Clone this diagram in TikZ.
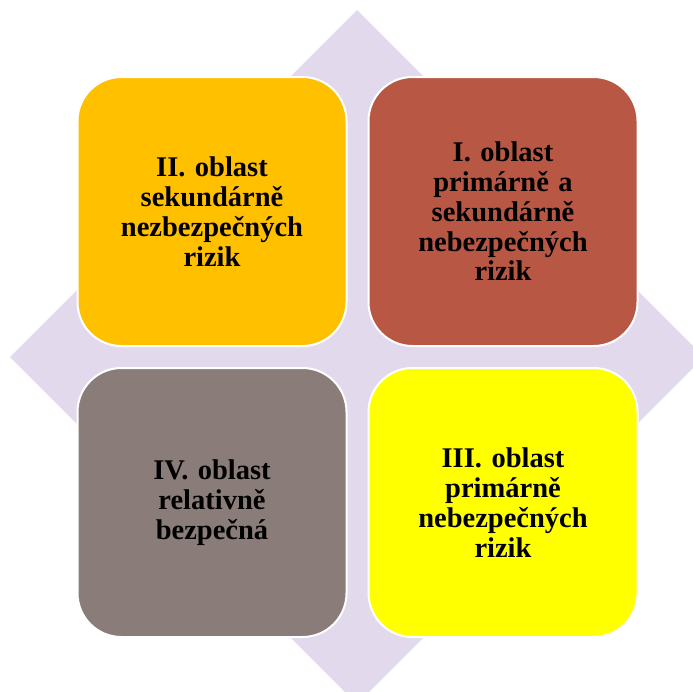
\documentclass[tikz,border=0pt]{standalone}
\usepackage{fontspec}
\setmainfont{Liberation Serif}
\definecolor{lavender}{RGB}{226,218,236}
\definecolor{gold}{RGB}{255,192,0}
\definecolor{brick}{RGB}{184,87,68}
\definecolor{taupe}{RGB}{138,124,120}
\definecolor{lemon}{RGB}{255,255,0}

\begin{document}
\begin{tikzpicture}[x=1pt,y=-1pt,
  area/.style={draw=white,line width=2pt,rounded corners=44pt,
    minimum width=269pt,minimum height=269pt,inner sep=0pt,
    text width=250pt,align=center,
    font=\fontsize{28.5}{29.8}\selectfont\bfseries}]
\useasboundingbox (0,0) rectangle (693,691);
\clip (0,0) rectangle (693,691);
\fill[lavender] (357,10)--(704,357)--(357,704)--(10,357)--cycle;
\node[area,fill=gold] (oblastII) at (212,211.5) {II. oblast\\sekundárně\\nezbezpečných\\rizik};
\node[area,fill=brick] (oblastI) at (503,211.5) {I. oblast\\primárně a\\sekundárně\\nebezpečných\\rizik};
\node[area,fill=taupe] (oblastIV) at (212,502.5) {IV. oblast\\relativně\\bezpečná};
\node[area,fill=lemon] (oblastIII) at (503,502.5) {III. oblast\\primárně\\nebezpečných\\rizik};
\end{tikzpicture}
\end{document}
